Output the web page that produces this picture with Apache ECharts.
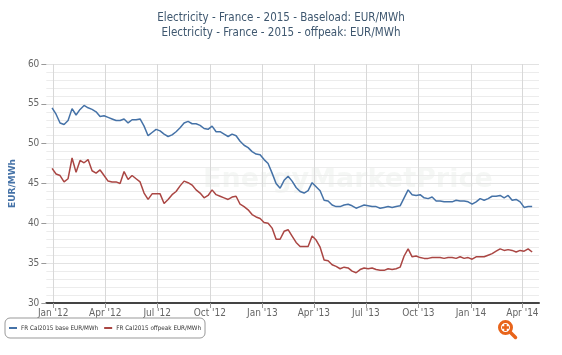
<!DOCTYPE html>
<html>
<head>
<meta charset="utf-8">
<script src="https://cdn.jsdelivr.net/npm/echarts@6/dist/echarts.min.js"></script>
<style>
html,body{margin:0;padding:0;background:#fff;}
#chart{width:562px;height:355px;}
</style>
</head>
<body>
<div id="chart"></div>
<script>
// ---- data (weekly samples) ----
var dates = [
'2011-12-30',
'2012-01-06','2012-01-13','2012-01-20','2012-01-27','2012-02-03','2012-02-10','2012-02-17','2012-02-24',
'2012-03-02','2012-03-09','2012-03-16','2012-03-23','2012-03-30','2012-04-06','2012-04-13','2012-04-20','2012-04-27',
'2012-05-04','2012-05-11','2012-05-18','2012-05-25','2012-06-01','2012-06-08','2012-06-15','2012-06-22','2012-06-29',
'2012-07-06','2012-07-13','2012-07-20','2012-07-27','2012-08-03','2012-08-10','2012-08-17','2012-08-24','2012-08-31',
'2012-09-07','2012-09-14','2012-09-21','2012-09-28','2012-10-05','2012-10-12','2012-10-19','2012-10-26',
'2012-11-02','2012-11-09','2012-11-16','2012-11-23','2012-11-30','2012-12-07','2012-12-14','2012-12-21','2012-12-28',
'2013-01-04','2013-01-11','2013-01-18','2013-01-25','2013-02-01','2013-02-08','2013-02-15','2013-02-22',
'2013-03-01','2013-03-08','2013-03-15','2013-03-22','2013-03-29','2013-04-05','2013-04-12','2013-04-19','2013-04-26',
'2013-05-03','2013-05-10','2013-05-17','2013-05-24','2013-05-31','2013-06-07','2013-06-14','2013-06-21','2013-06-28',
'2013-07-05','2013-07-12','2013-07-19','2013-07-26','2013-08-02','2013-08-09','2013-08-16','2013-08-23','2013-08-30',
'2013-09-06','2013-09-13','2013-09-20','2013-09-27','2013-10-04','2013-10-11','2013-10-18','2013-10-25',
'2013-11-01','2013-11-08','2013-11-15','2013-11-22','2013-11-29','2013-12-06','2013-12-13','2013-12-20','2013-12-27',
'2014-01-03','2014-01-10','2014-01-17','2014-01-24','2014-01-31','2014-02-07','2014-02-14','2014-02-21','2014-02-28',
'2014-03-07','2014-03-14','2014-03-21','2014-03-28','2014-04-04','2014-04-11','2014-04-18'
];

var baseValues = [
54.5,53.7,52.6,52.4,52.9,54.4,53.6,54.3,54.8,54.5,
54.3,54.0,53.4,53.5,53.3,53.1,52.9,52.9,53.1,52.6,
53.0,53.0,53.1,52.2,51.0,51.4,51.8,51.6,51.2,50.9,
51.1,51.5,52.0,52.6,52.8,52.5,52.5,52.3,51.9,51.8,
52.2,51.5,51.5,51.2,50.9,51.2,51.0,50.3,49.8,49.5,
49.0,48.7,48.6,48.0,47.5,46.3,45.0,44.4,45.4,45.9,
45.3,44.5,44.0,43.8,44.1,45.1,44.6,44.1,42.9,42.8,
42.3,42.1,42.1,42.3,42.4,42.2,41.9,42.1,42.3,42.2,
42.1,42.1,41.9,42.0,42.1,42.0,42.1,42.2,43.2,44.2,
43.6,43.5,43.6,43.2,43.1,43.3,42.8,42.8,42.7,42.7,
42.7,42.9,42.8,42.8,42.7,42.4,42.7,43.1,42.9,43.1,
43.4,43.4,43.5,43.2,43.5,42.9,43.0,42.7,42.0,42.1,
42.1
];

var offpeakValues = [
46.9,46.2,46.0,45.2,45.6,48.2,46.4,47.9,47.6,48.0,
46.6,46.3,46.7,46.0,45.3,45.2,45.2,45.0,46.5,45.5,
46.0,45.6,45.2,43.8,43.0,43.7,43.7,43.7,42.5,43.0,
43.6,44.0,44.7,45.3,45.1,44.8,44.2,43.8,43.2,43.5,
44.2,43.6,43.4,43.2,43.0,43.3,43.4,42.4,42.1,41.7,
41.1,40.8,40.6,40.1,40.0,39.4,38.0,38.0,39.0,39.2,
38.4,37.6,37.1,37.1,37.1,38.4,37.9,37.0,35.4,35.3,
34.8,34.6,34.3,34.5,34.4,34.0,33.8,34.2,34.4,34.3,
34.4,34.2,34.1,34.1,34.3,34.2,34.3,34.5,35.9,36.8,
35.8,35.9,35.7,35.6,35.6,35.7,35.7,35.7,35.6,35.7,
35.7,35.6,35.8,35.6,35.7,35.5,35.8,35.8,35.8,36.0,
36.2,36.5,36.8,36.6,36.7,36.6,36.4,36.6,36.5,36.8,
36.4
];

var tickDates = ['2012-01-01','2012-04-01','2012-07-01','2012-10-01','2013-01-01','2013-04-01','2013-07-01','2013-10-01','2014-01-01','2014-04-01'];
var tickLabels = ["Jan '12","Apr '12","Jul '12","Oct '12","Jan '13","Apr '13","Jul '13","Oct '13","Jan '14","Apr '14"];

var seriesNames = ['FR Cal2015 base EUR/MWh','FR Cal2015 offpeak EUR/MWh'];
var titleLines = ['Electricity - France - 2015 - Baseload: EUR/MWh','Electricity - France - 2015 - offpeak: EUR/MWh'];

// ---- build ----
function ts(s){var p=s.split('-');return Date.UTC(+p[0],+p[1]-1,+p[2]);}
var tickTs = tickDates.map(ts);
function pairs(vals){return vals.map(function(v,i){return [ts(dates[i]),v];});}

var narrow = "'Liberation Sans Narrow','DejaVu Sans Condensed','Roboto Condensed',sans-serif";

var chart = echarts.init(document.getElementById('chart'), null, {renderer:'canvas'});
chart.setOption({
  animation:false,
  backgroundColor:'#fff',
  title:{
    text: titleLines.join('\n'),
    left:'center', top:6,
    textStyle:{fontFamily:narrow, fontSize:11.5, lineHeight:15, fontWeight:'normal', color:'#3e576f'}
  },
  grid:{left:33, right:23, top:64, bottom:52},
  legend:{
    left:5, top:318,
    orient:'horizontal',
    padding:[7,4,7,4],
    itemGap:6,
    itemWidth:8, itemHeight:2,
    icon:'rect',
    borderColor:'#999', borderWidth:1, borderRadius:5,
    textStyle:{fontFamily:narrow, fontSize:6.3, color:'#333', padding:[0,0,0,-1]},
    data: seriesNames
  },
  xAxis:{
    type:'value',
    min: ts('2011-12-20'), max: ts('2014-04-30'),
    axisLine:{show:true, onZero:false, lineStyle:{color:'#444', width:2}},
    axisTick:{show:true, customValues: tickTs, length:5, lineStyle:{color:'#999'}},
    axisLabel:{
      customValues: tickTs,
      color:'#666', fontFamily:narrow, fontSize:10, margin:5,
      formatter:function(v){var i=tickTs.indexOf(v);return i>=0?tickLabels[i]:'';}
    },
    splitLine:{show:true, lineStyle:{color:'#d8d8d8', width:1}}
  },
  yAxis:{
    type:'value', min:30, max:60, interval:5,
    name:'EUR/MWh', nameLocation:'middle', nameGap:21, nameRotate:90,
    nameTextStyle:{color:'#4572a7', fontWeight:'bold', fontSize:9, fontFamily:"'DejaVu Sans',sans-serif"},
    axisLine:{show:false},
    axisTick:{show:true, length:5, lineStyle:{color:'#999'}},
    axisLabel:{color:'#666', fontFamily:narrow, fontSize:10, margin:7},
    splitLine:{show:true, lineStyle:{color:'#e2e2e2'}},
    minorTick:{show:false, splitNumber:5},
    minorSplitLine:{show:true, lineStyle:{color:'#ececec'}}
  },
  graphic:[
    {type:'text', left:203, top:166, z:0, silent:true,
     style:{text:'EnergyMarketPrice', fontSize:27, fontWeight:'bold', fontFamily:"'DejaVu Sans',sans-serif", fill:'rgba(120,140,120,0.07)'}},
    {type:'group', left:498, top:320, children:[
      {type:'circle', shape:{cx:7, cy:7, r:6}, style:{stroke:'#e8641b', lineWidth:3, fill:'#fff'}},
      {type:'line', shape:{x1:7,y1:3.5,x2:7,y2:10.5}, style:{stroke:'#e8641b', lineWidth:2.5}},
      {type:'line', shape:{x1:3.5,y1:7,x2:10.5,y2:7}, style:{stroke:'#e8641b', lineWidth:2.5}},
      {type:'line', shape:{x1:11.5,y1:11.5,x2:17,y2:17}, style:{stroke:'#e8641b', lineWidth:3.5, lineCap:'round'}}
    ]}
  ],
  series:[
    {name:seriesNames[0], type:'line', data:pairs(baseValues), showSymbol:false, symbol:'none',
     lineStyle:{color:'#4572a7', width:1.5}, itemStyle:{color:'#4572a7'}, z:3},
    {name:seriesNames[1], type:'line', data:pairs(offpeakValues), showSymbol:false, symbol:'none',
     lineStyle:{color:'#aa4643', width:1.5}, itemStyle:{color:'#aa4643'}, z:3}
  ]
});
</script>
</body>
</html>
